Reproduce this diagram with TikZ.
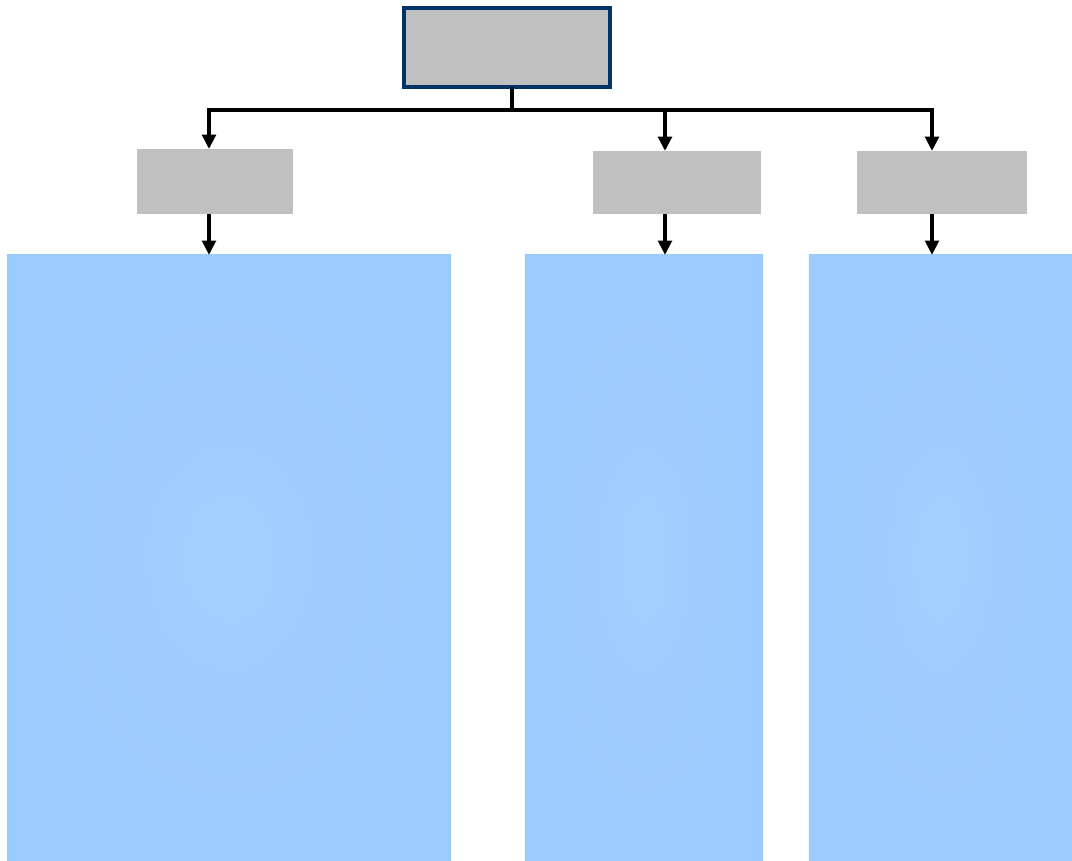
\documentclass[tikz,border=0pt]{standalone}
\usetikzlibrary{arrows.meta}
\definecolor{boxgray}{RGB}{192,192,192}
\definecolor{topline}{RGB}{0,51,102}
\definecolor{blueout}{RGB}{155,203,253}
\definecolor{bluein}{RGB}{162,208,254}
\begin{document}
\begin{tikzpicture}[x=0.025cm,y=-0.025cm,
	greybox/.style={fill=boxgray,inner sep=0pt,outer sep=0pt},
	bluebox/.style={inner sep=0pt,outer sep=0pt,inner color=bluein,outer color=blueout,minimum height=15.15cm},
	link/.style={line width=0.09cm,color=black},
	arr/.style={link,-{Triangle[length=0.36cm,width=0.34cm]}}]
	\useasboundingbox (0,0) rectangle (1072,861);
	
	\node (top) at (507,47.5)[greybox,draw=topline,line width=0.09cm,minimum width=5.15cm,minimum height=1.98cm]{};
	
	\node (s1) at (215,181.5)[greybox,minimum width=3.9cm,minimum height=1.625cm]{};
	\node (s2) at (677,182.5)[greybox,minimum width=4.2cm,minimum height=1.575cm]{};
	\node (s3) at (942,182.5)[greybox,minimum width=4.25cm,minimum height=1.575cm]{};
	
	\node (b1) at (229,558)[bluebox,minimum width=11.1cm]{};
	\node (b2) at (644,558)[bluebox,minimum width=5.95cm]{};
	\node (b3) at (940.5,558)[bluebox,minimum width=6.575cm]{};
	
	\coordinate (stem) at (512,110);
	\coordinate (j1) at (209,110);
	\coordinate (j2) at (665,110);
	\coordinate (j3) at (932,110);
	
	\draw [link](stem |- top.south)--(stem);
	\draw [link,line cap=rect](j1)--(j3);
	
	\draw [arr](j1)--(j1 |- s1.north);
	\draw [arr](j2)--(j2 |- s2.north);
	\draw [arr](j3)--(j3 |- s3.north);
	
	\draw [arr](j1 |- s1.south)--(j1 |- b1.north);
	\draw [arr](j2 |- s2.south)--(j2 |- b2.north);
	\draw [arr](j3 |- s3.south)--(j3 |- b3.north);
\end{tikzpicture}
\end{document}
